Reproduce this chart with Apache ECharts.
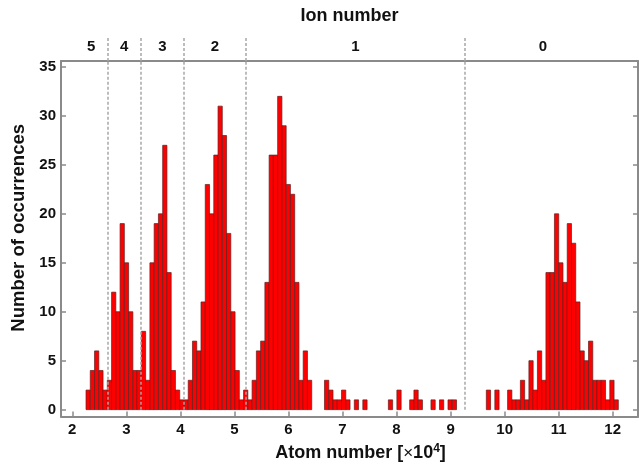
<!DOCTYPE html>
<html><head><meta charset="utf-8">
<script src="https://cdn.jsdelivr.net/npm/echarts@6/dist/echarts.min.js"></script>
<style>html,body{margin:0;padding:0;background:#fff}#c{width:639px;height:467px}</style>
</head><body><div id="c"></div>
<script>
// Histogram: bin start / width in units of 10^4 atoms
const binStart = 2.254;
const binWidth = 0.0788;
const counts = [
  2,4,6,4,2,3,12,10,19,15,
  10,4,4,8,3,15,19,20,27,14,
  4,2,1,1,3,7,6,11,23,20,
  26,31,28,18,10,4,1,2,1,3,
  6,7,13,26,26,32,29,23,22,13,
  3,6,3,0,0,0,3,2,1,1,
  2,1,0,1,0,1,0,0,0,0,
  0,1,0,2,0,0,1,2,1,0,
  0,1,0,1,0,1,1,0,0,0,
  0,0,0,0,2,0,2,0,0,2,
  1,1,3,1,5,2,6,3,14,14,
  20,15,13,19,17,11,6,5,7,3,
  3,3,1,3,1
];
const xTicks = [2,3,4,5,6,7,8,9,10,11,12];
const yTicks = [0,5,10,15,20,25,30,35];
const ionLabels = ['5','4','3','2','1','0'];
const ionLabelPos = [2.35, 2.96, 3.67, 4.64, 7.24, 10.71];
const ionBoundaries = [2.648, 3.272, 4.07, 5.21, 9.265];

const xMin = 1.791, xMax = 12.468, yMin = -0.71, yMax = 35.61;
const bins = counts.map((c, i) => [binStart + i * binWidth, c]);

const FONT = '"Liberation Sans", Arial, sans-serif';
const AX = '#8a8a8a';
const DASH = '#a6a6a6';

const chart = echarts.init(document.getElementById('c'), null, {renderer: 'canvas'});
chart.setOption({
  animation: false,
  backgroundColor: '#fff',
  grid: {left: 61, right: 1, top: 61, bottom: 49.3, containLabel: false},
  xAxis: [{
    type: 'value', position: 'bottom', min: xMin, max: xMax,
    axisLine: {show: true, onZero: false, lineStyle: {color: AX, width: 2}},
    axisTick: {show: true, inside: true, length: 5, customValues: xTicks, lineStyle: {color: AX, width: 1.5}},
    axisLabel: {show: true, customValues: xTicks, margin: 6, fontFamily: FONT, fontWeight: 'bold', fontSize: 15, color: '#111'},
    splitLine: {show: false},
    name: '{b|Atom number [}{t|\u00d7}{b|10}{s|4}{b|]}',
    nameLocation: 'middle', nameGap: 24,
    nameTextStyle: {
      padding: [0, 0, 0, 22],
      rich: {
        b: {fontFamily: FONT, fontWeight: 'bold', fontSize: 18, color: '#111'},
        t: {fontFamily: FONT, fontWeight: 'normal', fontSize: 17, color: '#111'},
        s: {fontFamily: FONT, fontWeight: 'bold', fontSize: 12, color: '#111', verticalAlign: 'top', padding: [0, 0, 9, 0]}
      }
    }
  }, {
    type: 'value', position: 'top', min: xMin, max: xMax,
    axisLine: {show: true, onZero: false, lineStyle: {color: AX, width: 2}},
    axisTick: {show: true, inside: false, length: 23, customValues: ionBoundaries, lineStyle: {color: DASH, width: 1.5, type: [3, 2]}},
    axisLabel: {
      show: true, customValues: ionLabelPos, margin: 7,
      fontFamily: FONT, fontWeight: 'bold', fontSize: 15, color: '#111',
      formatter: v => {
        let best = 0;
        ionLabelPos.forEach((p, i) => { if (Math.abs(p - v) < Math.abs(ionLabelPos[best] - v)) best = i; });
        return ionLabels[best];
      }
    },
    splitLine: {show: false},
    name: 'Ion number', nameLocation: 'middle', nameGap: 36,
    nameTextStyle: {fontFamily: FONT, fontWeight: 'bold', fontSize: 18, color: '#111'}
  }],
  yAxis: [{
    type: 'value', position: 'left', min: yMin, max: yMax,
    axisLine: {show: true, onZero: false, lineStyle: {color: AX, width: 2}},
    axisTick: {show: true, inside: true, length: 5, customValues: yTicks, lineStyle: {color: AX, width: 1.5}},
    axisLabel: {show: true, customValues: yTicks, margin: 5, fontFamily: FONT, fontWeight: 'bold', fontSize: 15, color: '#111'},
    splitLine: {show: false},
    name: 'Number of occurrences', nameLocation: 'middle', nameGap: 32,
    nameTextStyle: {fontFamily: FONT, fontWeight: 'bold', fontSize: 18.5, color: '#111', padding: [0, 0, 0, 22]}
  }, {
    type: 'value', position: 'right', min: yMin, max: yMax,
    axisLine: {show: true, onZero: false, lineStyle: {color: AX, width: 2}},
    axisTick: {show: true, inside: true, length: 5, customValues: yTicks, lineStyle: {color: AX, width: 1.5}},
    axisLabel: {show: false},
    splitLine: {show: false}
  }],
  series: [{
    type: 'custom',
    xAxisIndex: 0, yAxisIndex: 0,
    data: bins,
    encode: {x: 0, y: 1},
    renderItem: (params, api) => {
      const x0 = api.value(0), v = api.value(1);
      if (!v) return null;
      const p0 = api.coord([x0, v]);
      const p1 = api.coord([x0 + binWidth, 0]);
      return {
        type: 'rect',
        shape: {x: p0[0], y: p0[1], width: p1[0] - p0[0], height: p1[1] - p0[1]},
        style: {fill: '#ff0000', stroke: '#5e2020', lineWidth: 0.7}
      };
    },
    z: 2
  }, {
    type: 'line',
    xAxisIndex: 0, yAxisIndex: 0,
    data: [],
    z: 5,
    markLine: {
      silent: true, symbol: 'none', animation: false,
      label: {show: false},
      lineStyle: {color: DASH, width: 1.5, type: [3, 2]},
      data: ionBoundaries.map(b => [{coord: [b, 0]}, {coord: [b, yMax]}])
    }
  }]
});
</script>
</body></html>
